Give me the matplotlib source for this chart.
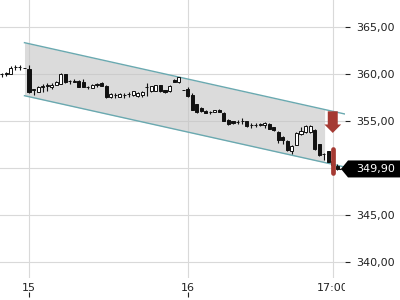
import numpy as np
import matplotlib
matplotlib.use("Agg")
import matplotlib.pyplot as plt
from matplotlib.patches import Polygon, FancyArrow
from matplotlib.transforms import Bbox, TransformedBbox, IdentityTransform

# ============ data (15-min candles) ============
opens = [359.95, 360.03, 360.03, 360.72, 360.73, 360.67, 360.53, 358.33, 358.12, 358.66,
         358.77, 358.62, 358.83, 358.98, 359.98, 359.25, 359.20, 359.29, 359.20, 358.63,
         358.56, 358.87, 359.00, 358.75, 357.55, 357.76, 357.55, 357.76, 357.86, 357.77,
         357.61, 357.72, 358.61, 358.19, 358.24, 358.78, 358.30, 358.19, 359.36, 359.20,
         358.30, 358.40, 357.77, 356.81, 356.40, 356.10, 355.95, 355.96, 356.20, 355.90,
         355.11, 354.95, 354.88, 354.99, 354.95, 354.56, 354.56, 354.57, 354.55, 354.63,
         354.31, 353.83, 353.35, 352.84, 351.81, 352.45, 353.62, 353.78, 353.78, 354.01,
         352.50, 351.50, 351.78, 350.75, 350.25]
highs = [360.07, 360.18, 360.80, 360.96, 360.96, 360.68, 360.96, 358.45, 358.75, 358.90,
         359.01, 359.00, 359.25, 360.07, 360.05, 359.36, 359.44, 359.40, 359.44, 358.70,
         358.94, 359.00, 359.18, 358.80, 357.95, 358.00, 357.95, 357.98, 358.05, 358.22,
         358.09, 358.16, 359.00, 358.75, 358.83, 358.83, 358.33, 358.83, 359.45, 359.71,
         358.31, 358.58, 357.95, 356.85, 356.52, 356.17, 356.04, 356.20, 356.25, 355.99,
         355.18, 355.03, 355.07, 355.35, 355.03, 354.76, 354.76, 354.74, 354.85, 354.80,
         354.36, 353.90, 353.40, 352.95, 352.45, 353.80, 354.36, 354.60, 354.60, 354.10,
         352.60, 351.55, 351.85, 350.90, 350.40]
lows = [359.68, 359.76, 359.95, 360.46, 360.46, 360.65, 357.95, 357.77, 358.05, 358.12,
        358.19, 358.45, 358.80, 358.95, 359.05, 358.94, 359.18, 358.60, 358.62, 358.38,
        358.48, 358.65, 358.70, 357.45, 357.42, 357.42, 357.52, 357.45, 357.55, 357.66,
        357.50, 357.53, 357.68, 358.12, 358.19, 358.12, 357.95, 358.12, 359.10, 359.07,
        358.29, 357.60, 356.17, 355.90, 355.99, 355.82, 355.78, 355.93, 355.92, 354.95,
        354.57, 354.72, 354.69, 354.68, 354.40, 354.22, 354.36, 354.52, 354.30, 354.10,
        353.90, 352.70, 352.60, 351.85, 351.52, 352.40, 353.55, 353.72, 353.72, 351.95,
        351.30, 350.82, 350.60, 350.20, 349.82]
closes = [359.97, 360.06, 360.67, 360.76, 360.75, 360.66, 358.12, 358.35, 358.65, 358.68,
          358.79, 358.88, 359.15, 359.98, 359.12, 359.27, 359.22, 358.65, 358.65, 358.65,
          358.83, 358.89, 358.75, 357.55, 357.82, 357.78, 357.87, 357.78, 357.88, 358.14,
          357.98, 358.09, 358.63, 358.67, 358.78, 358.19, 358.09, 358.72, 359.15, 359.63,
          358.30, 357.71, 356.22, 356.01, 356.10, 355.85, 355.97, 356.15, 356.00, 355.00,
          354.65, 354.80, 354.90, 355.01, 354.52, 354.58, 354.58, 354.70, 354.78, 354.15,
          353.99, 352.98, 352.98, 351.91, 352.34, 353.72, 353.94, 354.52, 354.52, 352.05,
          351.40, 351.48, 350.64, 350.30, 349.90]

tick_pos = [6, 41, 73]
tick_labels = ["15", "16", "17:00"]
day_marks = [6, 41]

y_ticks = [340, 345, 350, 355, 360, 365]
y_labels = ["340,00", "345,00", "350,00", "355,00", "360,00", "365,00"]

# trend channel (start / end index, upper & lower line)
chan_x = [5, 75.7]
chan_top = [363.33, 355.74]
chan_bot = [357.69, 350.10]
fill_end = 71.2

signal_idx = 73          # candle with the red marker
last_price = closes[-1]

# ============ plot ============
fig = plt.figure(figsize=(4, 3), dpi=100)
ax = fig.add_axes([0, 22 / 300, 345 / 400, 278 / 300])
ax.set_xlim(-0.4, 75.7)
ax.set_ylim(338.3, 367.87)

for s in ax.spines.values():
    s.set_visible(False)

# grid
ax.set_yticks(y_ticks)
ax.set_yticklabels(y_labels)
ax.set_xticks(tick_pos)
ax.set_xticklabels(tick_labels)
ax.grid(True, color="#d9d9d9", linewidth=0.8)
ax.set_axisbelow(True)

ax.yaxis.tick_right()
ax.tick_params(axis="y", length=3.6, width=0.8, pad=4.3, labelsize=8,
               colors="#222222")
ax.tick_params(axis="x", length=0, pad=3.8, labelsize=8, colors="#222222")

# clip the x labels at the plot's right edge (17:00 gets cut like the original)
clipbox = TransformedBbox(Bbox([[0, 0], [345 / 400, 1]]), fig.transFigure)
for lab in ax.get_xticklabels():
    lab.set_clip_box(clipbox)
    lab.set_clip_on(True)

# small day marks under the date labels
ax.vlines(day_marks, -0.050, -0.068, transform=ax.get_xaxis_transform(),
          colors="#222222", linewidth=0.8, clip_on=False)

# channel
fx = np.linspace(chan_x[0], fill_end, 50)
ax.fill_between(fx, np.interp(fx, chan_x, chan_bot), np.interp(fx, chan_x, chan_top),
                color="#c4c4c4", alpha=0.6, linewidth=0, zorder=1)
ax.plot(chan_x, chan_top, color="#6aa9b0", linewidth=1.0, zorder=2)
ax.plot(chan_x, chan_bot, color="#6aa9b0", linewidth=1.0, zorder=2)

# candles
x = np.arange(len(closes))
o = np.array(opens)
c = np.array(closes)
up = c >= o
ax.vlines(x, lows, highs, colors="#111111", linewidth=0.8, zorder=3)
body_lo = np.minimum(o, c)
body_h = np.maximum(np.abs(c - o), 0.03)
ax.bar(x, body_h, bottom=body_lo, width=0.68,
       color=np.where(up, "white", "#111111"), edgecolor="#111111",
       linewidth=0.7, zorder=4)

# last price dashed link
ax.plot([x[-1] + 0.4, 75.7], [last_price, last_price], color="#111111",
        linewidth=0.8, linestyle=(0, (2, 2)), zorder=4)

# red signal markers
red = "#a53a33"
arr_top = np.interp(signal_idx, chan_x, chan_top)
ax.add_patch(FancyArrow(signal_idx, arr_top, 0, -2.3, width=2.2, head_width=3.7,
                        head_length=0.9, length_includes_head=True,
                        color=red, linewidth=0, zorder=6))
ax.plot([signal_idx, signal_idx], [352.02, 349.51], color=red, linewidth=3.4,
        solid_capstyle="round", zorder=6)

# last price tag on the right axis
px, py = ax.transData.transform((75.7, last_price))
tag = Polygon([[px - 4, py], [px + 3, py + 8.5], [400, py + 8.5],
               [400, py - 8.5], [px + 3, py - 8.5]],
              closed=True, transform=IdentityTransform(),
              facecolor="black", edgecolor="none", zorder=10)
fig.add_artist(tag)
fig.text(356 / 400, py / 300, "349,90", color="white", fontsize=8,
         va="center", ha="left", zorder=11)

fig.savefig("out.png", dpi=100)
